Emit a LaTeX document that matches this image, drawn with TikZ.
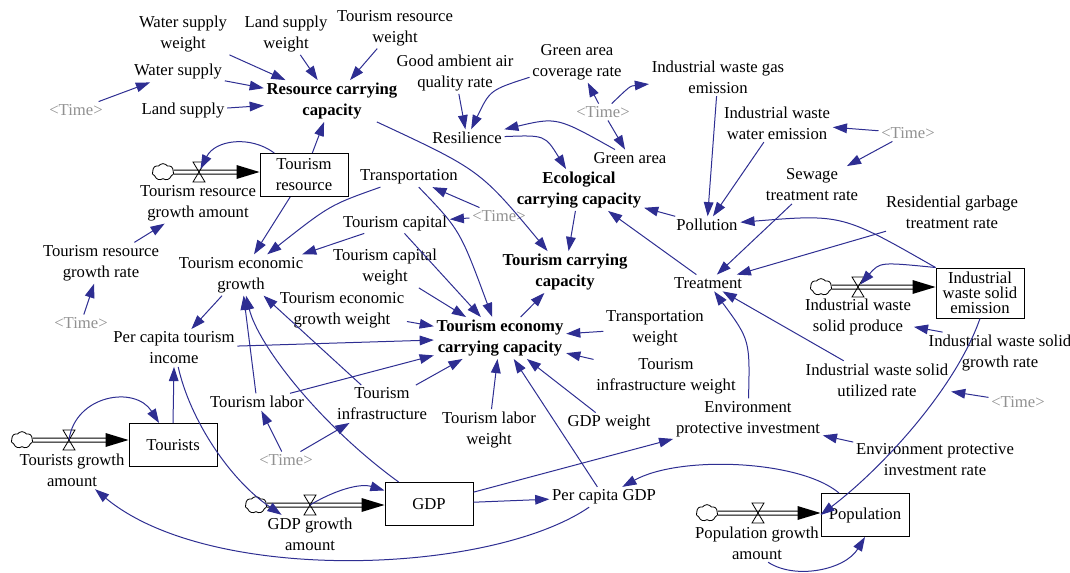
\documentclass[tikz,border=0pt]{standalone}
\usepackage{fontspec}
\setmainfont{Liberation Serif}
\usetikzlibrary{arrows.meta, shapes.symbols}
\definecolor{linkblue}{RGB}{46,46,146}
\definecolor{timegray}{RGB}{145,145,145}
\tikzset{
  var/.style={align=center, inner sep=1.5pt, font=\fontsize{10}{12.6}\selectfont},
  keyvar/.style={var, font=\fontsize{10}{12.6}\selectfont\bfseries},
  ghost/.style={var, text=timegray},
  stock/.style={draw, line width=0.6pt, minimum width=52.8pt, minimum height=25.8pt, align=center, inner sep=1pt, font=\fontsize{10}{12.6}\selectfont},
  link/.style={draw=linkblue, line width=0.6pt, -{Triangle[length=8.5pt,width=5.8pt]}},
  pipe/.style={double, double distance=1.8pt, line width=0.6pt, shorten >=13pt},
  sky/.style={cloud, draw, cloud puffs=7, cloud puff arc=110, aspect=1.3, minimum width=13pt, minimum height=10pt, inner sep=0pt, line width=0.5pt}
}
\begin{document}
\begin{tikzpicture}[x=0.6pt, y=-0.6pt]
\useasboundingbox (0,0) rectangle (1070,573);
% Resource subsystem
\node[var] (wsw) at (183,34) {Water supply\\weight};
\node[var] (lsw) at (286,34) {Land supply\\weight};
\node[var] (trw) at (395,28) {Tourism resource\\weight};
\node[var] (ws) at (178,72) {Water supply};
\node[var] (ls) at (183,111) {Land supply};
\node[ghost] (time1) at (76,110) {<Time>};
\node[keyvar] (rcc) at (332,101) {Resource carrying\\capacity};
% Ecological subsystem
\node[var] (gaq) at (455,73) {Good ambient air\\quality rate};
\node[var] (gacr) at (577,62) {Green area\\coverage rate};
\node[var] (iwge) at (718,77) {Industrial waste gas\\emission};
\node[ghost] (time2) at (603,112) {<Time>};
\node[var] (res) at (467,138) {Resilience};
\node[var] (ga) at (630,158) {Green area};
\node[var] (iwwe) at (777,123) {Industrial waste\\water emission};
\node[ghost] (time3) at (908,133) {<Time>};
\node[var] (str) at (812,185) {Sewage\\treatment rate};
\node[keyvar] (ecc) at (579,190) {Ecological\\carrying capacity};
\node[var] (pol) at (707,225) {Pollution};
\node[var] (rgtr) at (952,212) {Residential garbage\\treatment rate};
\node[var] (trt) at (708,283) {Treatment};
\node[keyvar] (tcc) at (565,272) {Tourism carrying\\capacity};
\node[var] (iwsp) at (858,317) {Industrial waste\\solid produce};
\node[var] (iwsgr) at (1000,353) {Industrial waste solid\\growth rate};
\node[var] (iwsur) at (877,380) {Industrial waste solid\\utilized rate};
\node[ghost] (time6) at (1018,402) {<Time>};
\node[var] (epi) at (748,419) {Environment\\protective investment};
\node[var] (epir) at (935,460) {Environment protective\\investment rate};
\node[stock, minimum height=30pt, font=\fontsize{10}{9}\selectfont] (iwse) at (980,293) {Industrial\\waste solid\\emission};
\node[stock] (pop) at (865,515) {Population};
\node[var] (pga) at (757,543) {Population growth\\amount};
% Economy subsystem
\node[stock] (trs) at (304,175) {Tourism\\resource};
\node[var] (trga) at (198,203) {Tourism resource\\growth amount};
\node[var] (trgr) at (101,263) {Tourism resource\\growth rate};
\node[ghost] (time5) at (81,323) {<Time>};
\node[var] (tran) at (409,177) {Transportation};
\node[ghost] (time4) at (499,216) {<Time>};
\node[var] (tcap) at (395,223) {Tourism capital};
\node[var] (teg) at (241,275) {Tourism economic\\growth};
\node[var] (tcapw) at (385,267) {Tourism capital\\weight};
\node[var] (tegw) at (342,310) {Tourism economic\\growth weight};
\node[keyvar] (tecc) at (500,338) {Tourism economy\\carrying capacity};
\node[var] (tranw) at (655,328) {Transportation\\weight};
\node[var] (tiw) at (666,376) {Tourism\\infrastructure weight};
\node[var] (pcti) at (174,348) {Per capita tourism\\income};
\node[var] (tlab) at (257,402) {Tourism labor};
\node[var] (tinf) at (382,404) {Tourism\\infrastructure};
\node[ghost] (time7) at (286,460) {<Time>};
\node[var] (tlw) at (489,430) {Tourism labor\\weight};
\node[var] (gdpw) at (609,423) {GDP weight};
\node[stock] (tour) at (173,445) {Tourists};
\node[var] (tga) at (72,470) {Tourists growth\\amount};
\node[stock] (gdp) at (429,504) {GDP};
\node[var] (gdpga) at (310,534) {GDP growth\\amount};
\node[var] (pcgdp) at (604,497) {Per capita GDP};
% Flows: cloud, pipe, valve
\foreach \v/\vx/\vy/\c/\cx in {vtr/199/172/ctr/163, vtour/69/440/ctour/22, vgdp/310/505/cgdp/256, viws/858/287/ciws/821, vpop/758/513/cpop/707}{
  \coordinate (\v) at (\vx,\vy);
  \node[sky] (\c) at (\cx,\vy) {};
}
\foreach \c/\v/\s in {ctr/vtr/trs, ctour/vtour/tour, cgdp/vgdp/gdp, ciws/viws/iwse, cpop/vpop/pop}{
  \draw[pipe] (\c.east) -- (\s.west |- \v);
  \fill (\s.west |- \v) -- ++(-23,-7) -- ++(0,14) -- cycle;
  \draw[line width=0.5pt] (\v) ++(-6,-10) -- ++(12,0) -- ++(-12,20) -- ++(12,0) -- cycle;
}
% Resource links
\draw[link] (wsw) -- (rcc);
\draw[link] (lsw) -- (rcc);
\draw[link] (trw) -- (rcc);
\draw[link] (ws) -- (rcc);
\draw[link] (ls) -- (rcc);
\draw[link] (time1) -- (ws);
\draw[link] (trs) -- (rcc);
\draw[link] (rcc) .. controls (480,170) .. (tcc);
% Ecological links
\draw[link] (gaq) -- (res);
\draw[link] (gacr) .. controls (490,90) .. (res);
\draw[link] (time2) -- (gacr);
\draw[link] (time2) .. controls (630,86) .. (iwge);
\draw[link] (time2) -- (ga);
\draw[link] (ga) .. controls (557,117) .. (res);
\draw[link] (res) .. controls (545,135) .. (ecc);
\draw[link] (iwge) -- (pol);
\draw[link] (iwwe) -- (pol);
\draw[link] (time3) -- (iwwe);
\draw[link] (time3) -- (str);
\draw[link] (pol) -- (ecc);
\draw[link] (ecc) -- (tcc);
\draw[link] (trt) -- (ecc);
\draw[link] (str) -- (trt);
\draw[link] (rgtr) -- (trt);
\draw[link] (iwse.north west) .. controls (842,214) .. (pol);
\draw[link, shorten >=2pt] (iwse.north west) .. controls (880,262) .. (viws);
\draw[link] (iwsgr.160) -- (iwsp.-10);
\draw[link] (iwsur.150) -- (trt);
\draw[link] (epi) .. controls (750,340) .. (trt);
\draw[link] (time6) -- (iwsur);
\draw[link] (epir) -- (epi);
\draw[link] (iwse.south) .. controls (955,390) and (880,470) .. (pop.west);
\draw[link] (pop) .. controls (800,460) and (680,455) .. (pcgdp);
\draw[link] (pga.-60) .. controls (795,580) and (845,570) .. (pop.south);
% Economy links
\draw[link] (pcgdp) -- (tecc);
\draw[link] (gdpw) -- (tecc);
\draw[link] (tlw) -- (tecc);
\draw[link] (tiw) -- (tecc);
\draw[link] (tranw) -- (tecc);
\draw[link] (tecc) -- (tcc);
\draw[link] (tcapw) -- (tecc);
\draw[link] (tegw) -- (tecc);
\draw[link] (pcti) -- (tecc);
\draw[link] (tlab) -- (tecc);
\draw[link] (tinf) -- (tecc);
\draw[link] (tcap) -- (tecc);
\draw[link] (tran) .. controls (460,230) .. (tecc);
\draw[link] (time4) -- (tran);
\draw[link] (time4) -- (tcap);
\draw[link] (tran) .. controls (330,205) .. (teg);
\draw[link] (tcap) -- (teg);
\draw[link] (trs) -- (teg);
\draw[link, shorten >=2pt] (trs) .. controls (250,135) and (215,140) .. (vtr);
\draw[link] (trgr) -- (trga);
\draw[link] (time5) -- (trgr);
\draw[link] (teg) -- (pcti);
\draw[link] (tour.north) -- (pcti.south);
\draw[link] (pcti) .. controls (190,420) and (230,480) .. (gdpga);
\draw[link] (tlab) -- (teg);
\draw[link] (tinf) -- (teg);
\draw[link] (gdp) .. controls (320,425) and (258,345) .. (teg);
\draw[link] (time7) -- (tlab);
\draw[link] (time7) -- (tinf);
\draw[link] (vtour) .. controls (75,395) and (135,385) .. (tour);
\draw[link] (vgdp) .. controls (335,490) and (360,483) .. (gdp);
\draw[link] (gdp) -- (pcgdp);
\draw[link] (gdp) -- (epi);
\draw[link] (pcgdp) .. controls (490,575) and (210,585) .. (tga);
\end{tikzpicture}
\end{document}
